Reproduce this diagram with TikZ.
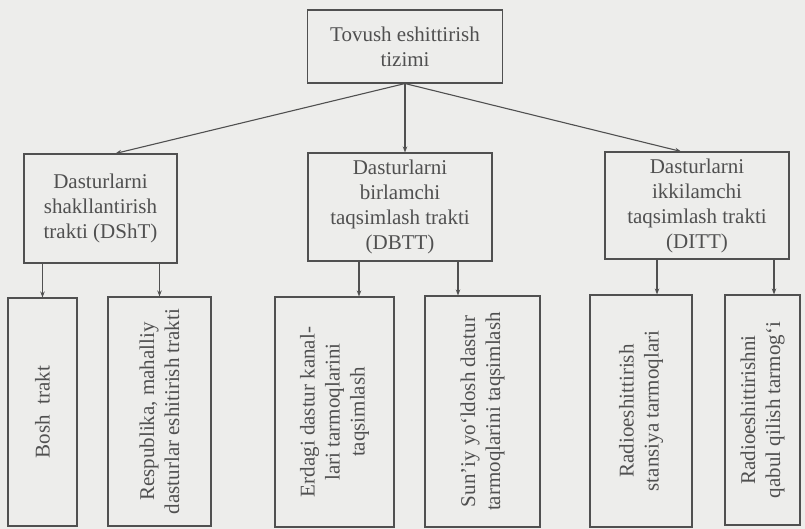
\documentclass[tikz,border=0pt]{standalone}
\usepackage{fontspec}
\setmainfont{Liberation Serif}
\usetikzlibrary{arrows.meta, positioning}
\definecolor{inkgray}{RGB}{80,80,80}
\definecolor{papergray}{RGB}{237,237,235}

\begin{document}
\begin{tikzpicture}[x=1pt, y=-1pt, >={Stealth[length=6pt,width=4.5pt]},
      color=inkgray, line width=1.1pt,
      box/.style={draw, rectangle, inner sep=0pt, align=center,
        font=\fontsize{21}{25}\selectfont},
      vbox/.style={box, rotate=90}]
      \useasboundingbox[fill=papergray] (0,0) rectangle (805,529);
      % top level
      \node[box, minimum width=195, minimum height=73] (s_0) at (405,46.5) {Tovush eshittirish\\tizimi};
      % second level
      \node[box, minimum width=153, minimum height=109] (s_1) at (100.5,208.5) {Dasturlarni\\shakllantirish\\trakti (DShT)};
      \node[box, minimum width=184, minimum height=108] (s_2) at (400,207) {Dasturlarni\\birlamchi\\taqsimlash trakti\\(DBTT)};
      \node[box, minimum width=184, minimum height=107] (s_3) at (697,205.5) {Dasturlarni\\ikkilamchi\\taqsimlash trakti\\(DITT)};
      % third level
      \node[vbox, minimum width=228, minimum height=69] (b_1) at (42.5,412) {Bosh~~trakt};
      \node[vbox, minimum width=229, minimum height=103] (b_2) at (159.5,411.5) {Respublika, mahalliy\\dasturlar eshitirish trakti};
      \node[vbox, minimum width=230, minimum height=119] (b_3) at (334.5,412) {Erdagi dastur kanal-\\lari tarmoqlarini\\taqsimlash};
      \node[vbox, minimum width=231, minimum height=115] (b_4) at (482.5,411.5) {Sun’iy yo‘ldosh dastur\\tarmoqlarini taqsimlash};
      \node[vbox, minimum width=232, minimum height=102] (b_5) at (641,411) {Radioeshittirish\\stansiya tarmoqlari};
      \node[vbox, minimum width=230, minimum height=75] (b_6) at (762.5,410) {Radioeshittirishni\\qabul qilish tarmog‘i};
      \path[->] (s_0.south) edge ([xshift=15]s_1.north)
                (s_0.south) edge (s_0.south |- s_2.north)
                (s_0.south) edge ([xshift=-16]s_3.north);
      \path[->] (b_1.east |- s_1.south) edge (b_1.east)
                (b_2.east |- s_1.south) edge (b_2.east)
                ([xshift=-41]s_2.south) edge ([xshift=24.5]b_3.east)
                ([xshift=58]s_2.south) edge ([xshift=-24.5]b_4.east)
                ([xshift=-40]s_3.south) edge ([xshift=16]b_5.east)
                ([xshift=77]s_3.south) edge ([xshift=11.5]b_6.east);
    \end{tikzpicture}
\end{document}
